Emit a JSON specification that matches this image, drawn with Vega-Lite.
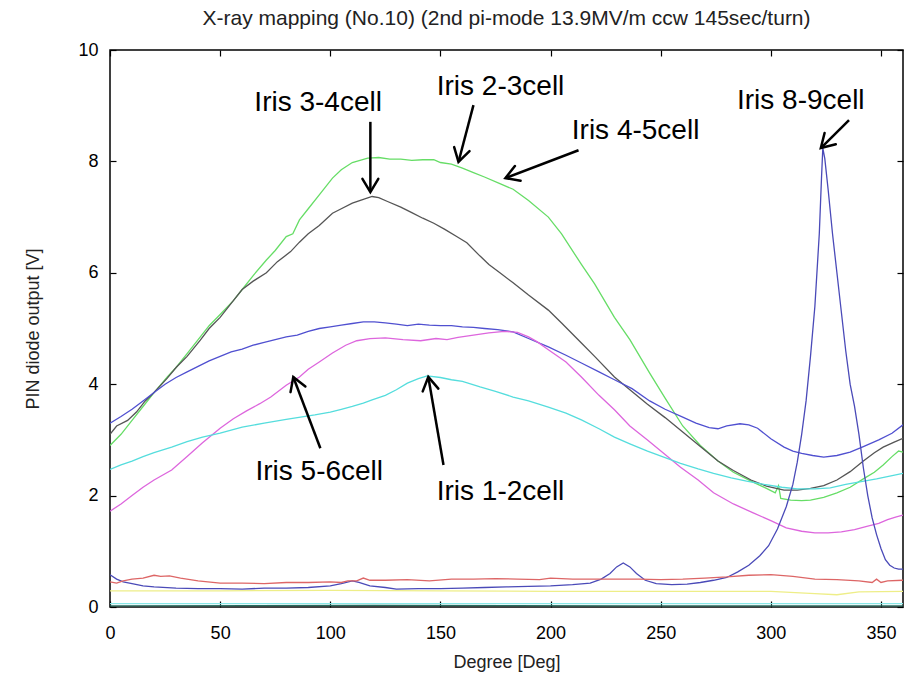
{
  "$schema": "https://vega.github.io/schema/vega-lite/v6.json",
  "width": 793,
  "height": 557,
  "autosize": "none",
  "padding": {"left": 110, "top": 50, "right": 14, "bottom": 71},
  "background": "white",
  "config": {
    "view": {"stroke": "#000000", "strokeWidth": 1.5},
    "font": "Liberation Sans"
  },
  "title": {
    "text": "X-ray mapping (No.10) (2nd pi-mode 13.9MV/m ccw 145sec/turn)",
    "fontSize": 21,
    "font": "Liberation Sans",
    "fontWeight": "normal",
    "color": "#222222",
    "anchor": "middle",
    "offset": 12
  },
  "datasets": {
    "curves": [
      {"s":"Iris 4-5cell","d":0,"v":2.9},{"s":"Iris 4-5cell","d":5,"v":3.1},{"s":"Iris 4-5cell","d":10,"v":3.35},{"s":"Iris 4-5cell","d":15,"v":3.6},{"s":"Iris 4-5cell","d":20,"v":3.85},{"s":"Iris 4-5cell","d":26,"v":4.13},{"s":"Iris 4-5cell","d":30,"v":4.3},{"s":"Iris 4-5cell","d":35,"v":4.55},{"s":"Iris 4-5cell","d":41,"v":4.85},{"s":"Iris 4-5cell","d":45,"v":5.05},{"s":"Iris 4-5cell","d":50,"v":5.25},{"s":"Iris 4-5cell","d":56,"v":5.5},{"s":"Iris 4-5cell","d":60,"v":5.7},{"s":"Iris 4-5cell","d":65,"v":5.95},{"s":"Iris 4-5cell","d":71,"v":6.23},{"s":"Iris 4-5cell","d":75,"v":6.4},{"s":"Iris 4-5cell","d":80,"v":6.65},{"s":"Iris 4-5cell","d":83,"v":6.7},{"s":"Iris 4-5cell","d":86,"v":6.95},{"s":"Iris 4-5cell","d":90,"v":7.15},{"s":"Iris 4-5cell","d":95,"v":7.4},{"s":"Iris 4-5cell","d":101,"v":7.7},{"s":"Iris 4-5cell","d":105,"v":7.85},{"s":"Iris 4-5cell","d":110,"v":7.98},{"s":"Iris 4-5cell","d":117,"v":8.06},{"s":"Iris 4-5cell","d":122,"v":8.07},{"s":"Iris 4-5cell","d":127,"v":8.04},{"s":"Iris 4-5cell","d":132,"v":8.04},{"s":"Iris 4-5cell","d":137,"v":8.02},{"s":"Iris 4-5cell","d":142,"v":8.03},{"s":"Iris 4-5cell","d":147,"v":8.03},{"s":"Iris 4-5cell","d":150,"v":7.98},{"s":"Iris 4-5cell","d":155,"v":7.95},{"s":"Iris 4-5cell","d":160,"v":7.88},{"s":"Iris 4-5cell","d":165,"v":7.8},{"s":"Iris 4-5cell","d":170,"v":7.72},{"s":"Iris 4-5cell","d":177,"v":7.6},{"s":"Iris 4-5cell","d":183,"v":7.5},{"s":"Iris 4-5cell","d":190,"v":7.3},{"s":"Iris 4-5cell","d":199,"v":7.0},{"s":"Iris 4-5cell","d":205,"v":6.7},{"s":"Iris 4-5cell","d":214,"v":6.15},{"s":"Iris 4-5cell","d":220,"v":5.8},{"s":"Iris 4-5cell","d":229,"v":5.2},{"s":"Iris 4-5cell","d":236,"v":4.8},{"s":"Iris 4-5cell","d":245,"v":4.2},{"s":"Iris 4-5cell","d":252,"v":3.75},{"s":"Iris 4-5cell","d":260,"v":3.25},{"s":"Iris 4-5cell","d":268,"v":2.9},{"s":"Iris 4-5cell","d":276,"v":2.62},{"s":"Iris 4-5cell","d":283,"v":2.42},{"s":"Iris 4-5cell","d":291,"v":2.26},{"s":"Iris 4-5cell","d":298,"v":2.13},{"s":"Iris 4-5cell","d":302,"v":2.05},{"s":"Iris 4-5cell","d":303.5,"v":2.18},{"s":"Iris 4-5cell","d":304.5,"v":1.95},{"s":"Iris 4-5cell","d":309,"v":1.92},{"s":"Iris 4-5cell","d":314,"v":1.91},{"s":"Iris 4-5cell","d":318,"v":1.92},{"s":"Iris 4-5cell","d":324,"v":1.97},{"s":"Iris 4-5cell","d":330,"v":2.05},{"s":"Iris 4-5cell","d":336,"v":2.15},{"s":"Iris 4-5cell","d":342,"v":2.3},{"s":"Iris 4-5cell","d":347,"v":2.42},{"s":"Iris 4-5cell","d":351,"v":2.55},{"s":"Iris 4-5cell","d":355,"v":2.7},{"s":"Iris 4-5cell","d":358,"v":2.8},{"s":"Iris 4-5cell","d":360,"v":2.78},

      {"s":"Iris 3-4cell","d":0,"v":3.1},{"s":"Iris 3-4cell","d":3,"v":3.25},{"s":"Iris 3-4cell","d":8,"v":3.35},{"s":"Iris 3-4cell","d":12,"v":3.5},{"s":"Iris 3-4cell","d":16,"v":3.7},{"s":"Iris 3-4cell","d":20,"v":3.85},{"s":"Iris 3-4cell","d":26,"v":4.11},{"s":"Iris 3-4cell","d":30,"v":4.3},{"s":"Iris 3-4cell","d":35,"v":4.5},{"s":"Iris 3-4cell","d":41,"v":4.79},{"s":"Iris 3-4cell","d":45,"v":5.0},{"s":"Iris 3-4cell","d":50,"v":5.2},{"s":"Iris 3-4cell","d":56,"v":5.5},{"s":"Iris 3-4cell","d":60,"v":5.7},{"s":"Iris 3-4cell","d":65,"v":5.85},{"s":"Iris 3-4cell","d":71,"v":6.0},{"s":"Iris 3-4cell","d":76,"v":6.2},{"s":"Iris 3-4cell","d":82,"v":6.38},{"s":"Iris 3-4cell","d":86,"v":6.55},{"s":"Iris 3-4cell","d":90,"v":6.7},{"s":"Iris 3-4cell","d":95,"v":6.85},{"s":"Iris 3-4cell","d":101,"v":7.07},{"s":"Iris 3-4cell","d":105,"v":7.15},{"s":"Iris 3-4cell","d":110,"v":7.25},{"s":"Iris 3-4cell","d":115,"v":7.32},{"s":"Iris 3-4cell","d":119,"v":7.37},{"s":"Iris 3-4cell","d":122,"v":7.35},{"s":"Iris 3-4cell","d":126,"v":7.28},{"s":"Iris 3-4cell","d":132,"v":7.18},{"s":"Iris 3-4cell","d":137,"v":7.08},{"s":"Iris 3-4cell","d":142,"v":6.98},{"s":"Iris 3-4cell","d":147,"v":6.89},{"s":"Iris 3-4cell","d":152,"v":6.78},{"s":"Iris 3-4cell","d":157,"v":6.66},{"s":"Iris 3-4cell","d":162,"v":6.54},{"s":"Iris 3-4cell","d":168,"v":6.3},{"s":"Iris 3-4cell","d":172,"v":6.15},{"s":"Iris 3-4cell","d":177,"v":6.0},{"s":"Iris 3-4cell","d":183,"v":5.82},{"s":"Iris 3-4cell","d":190,"v":5.6},{"s":"Iris 3-4cell","d":199,"v":5.33},{"s":"Iris 3-4cell","d":205,"v":5.1},{"s":"Iris 3-4cell","d":214,"v":4.74},{"s":"Iris 3-4cell","d":220,"v":4.5},{"s":"Iris 3-4cell","d":229,"v":4.13},{"s":"Iris 3-4cell","d":236,"v":3.9},{"s":"Iris 3-4cell","d":244,"v":3.64},{"s":"Iris 3-4cell","d":252,"v":3.4},{"s":"Iris 3-4cell","d":260,"v":3.14},{"s":"Iris 3-4cell","d":268,"v":2.88},{"s":"Iris 3-4cell","d":276,"v":2.62},{"s":"Iris 3-4cell","d":283,"v":2.45},{"s":"Iris 3-4cell","d":291,"v":2.28},{"s":"Iris 3-4cell","d":298,"v":2.17},{"s":"Iris 3-4cell","d":306,"v":2.1},{"s":"Iris 3-4cell","d":312,"v":2.1},{"s":"Iris 3-4cell","d":318,"v":2.13},{"s":"Iris 3-4cell","d":324,"v":2.18},{"s":"Iris 3-4cell","d":330,"v":2.28},{"s":"Iris 3-4cell","d":336,"v":2.43},{"s":"Iris 3-4cell","d":342,"v":2.62},{"s":"Iris 3-4cell","d":347,"v":2.77},{"s":"Iris 3-4cell","d":351,"v":2.87},{"s":"Iris 3-4cell","d":356,"v":2.96},{"s":"Iris 3-4cell","d":360,"v":3.03},

      {"s":"blue","d":0,"v":3.3},{"s":"blue","d":5,"v":3.42},{"s":"blue","d":10,"v":3.55},{"s":"blue","d":15,"v":3.7},{"s":"blue","d":20,"v":3.85},{"s":"blue","d":25,"v":4.0},{"s":"blue","d":30,"v":4.12},{"s":"blue","d":35,"v":4.22},{"s":"blue","d":40,"v":4.32},{"s":"blue","d":45,"v":4.42},{"s":"blue","d":50,"v":4.5},{"s":"blue","d":55,"v":4.58},{"s":"blue","d":60,"v":4.63},{"s":"blue","d":65,"v":4.7},{"s":"blue","d":70,"v":4.75},{"s":"blue","d":75,"v":4.8},{"s":"blue","d":80,"v":4.85},{"s":"blue","d":85,"v":4.88},{"s":"blue","d":90,"v":4.95},{"s":"blue","d":95,"v":5.0},{"s":"blue","d":100,"v":5.03},{"s":"blue","d":105,"v":5.06},{"s":"blue","d":110,"v":5.09},{"s":"blue","d":115,"v":5.12},{"s":"blue","d":120,"v":5.12},{"s":"blue","d":125,"v":5.1},{"s":"blue","d":130,"v":5.08},{"s":"blue","d":135,"v":5.05},{"s":"blue","d":140,"v":5.08},{"s":"blue","d":145,"v":5.06},{"s":"blue","d":150,"v":5.05},{"s":"blue","d":155,"v":5.05},{"s":"blue","d":160,"v":5.03},{"s":"blue","d":165,"v":5.02},{"s":"blue","d":170,"v":5.0},{"s":"blue","d":176,"v":4.98},{"s":"blue","d":183,"v":4.94},{"s":"blue","d":190,"v":4.82},{"s":"blue","d":199,"v":4.67},{"s":"blue","d":207,"v":4.52},{"s":"blue","d":214,"v":4.38},{"s":"blue","d":222,"v":4.22},{"s":"blue","d":229,"v":4.08},{"s":"blue","d":237,"v":3.92},{"s":"blue","d":245,"v":3.7},{"s":"blue","d":252,"v":3.55},{"s":"blue","d":260,"v":3.41},{"s":"blue","d":266,"v":3.3},{"s":"blue","d":272,"v":3.22},{"s":"blue","d":276,"v":3.2},{"s":"blue","d":280,"v":3.25},{"s":"blue","d":286,"v":3.29},{"s":"blue","d":290,"v":3.27},{"s":"blue","d":294,"v":3.21},{"s":"blue","d":300,"v":3.02},{"s":"blue","d":306,"v":2.87},{"s":"blue","d":310,"v":2.8},{"s":"blue","d":314,"v":2.76},{"s":"blue","d":319,"v":2.72},{"s":"blue","d":324,"v":2.69},{"s":"blue","d":330,"v":2.72},{"s":"blue","d":336,"v":2.78},{"s":"blue","d":342,"v":2.88},{"s":"blue","d":349,"v":3.0},{"s":"blue","d":355,"v":3.12},{"s":"blue","d":360,"v":3.27},

      {"s":"Iris 5-6cell","d":0,"v":1.72},{"s":"Iris 5-6cell","d":5,"v":1.85},{"s":"Iris 5-6cell","d":10,"v":2.0},{"s":"Iris 5-6cell","d":15,"v":2.15},{"s":"Iris 5-6cell","d":20,"v":2.28},{"s":"Iris 5-6cell","d":28,"v":2.46},{"s":"Iris 5-6cell","d":35,"v":2.7},{"s":"Iris 5-6cell","d":42,"v":2.95},{"s":"Iris 5-6cell","d":50,"v":3.21},{"s":"Iris 5-6cell","d":56,"v":3.38},{"s":"Iris 5-6cell","d":62,"v":3.52},{"s":"Iris 5-6cell","d":68,"v":3.65},{"s":"Iris 5-6cell","d":73,"v":3.77},{"s":"Iris 5-6cell","d":80,"v":3.98},{"s":"Iris 5-6cell","d":86,"v":4.13},{"s":"Iris 5-6cell","d":90,"v":4.27},{"s":"Iris 5-6cell","d":95,"v":4.4},{"s":"Iris 5-6cell","d":101,"v":4.56},{"s":"Iris 5-6cell","d":107,"v":4.7},{"s":"Iris 5-6cell","d":112,"v":4.78},{"s":"Iris 5-6cell","d":118,"v":4.82},{"s":"Iris 5-6cell","d":125,"v":4.83},{"s":"Iris 5-6cell","d":133,"v":4.8},{"s":"Iris 5-6cell","d":141,"v":4.78},{"s":"Iris 5-6cell","d":148,"v":4.82},{"s":"Iris 5-6cell","d":153,"v":4.8},{"s":"Iris 5-6cell","d":158,"v":4.84},{"s":"Iris 5-6cell","d":165,"v":4.88},{"s":"Iris 5-6cell","d":172,"v":4.92},{"s":"Iris 5-6cell","d":179,"v":4.95},{"s":"Iris 5-6cell","d":185,"v":4.93},{"s":"Iris 5-6cell","d":190,"v":4.85},{"s":"Iris 5-6cell","d":194,"v":4.76},{"s":"Iris 5-6cell","d":199,"v":4.62},{"s":"Iris 5-6cell","d":207,"v":4.4},{"s":"Iris 5-6cell","d":214,"v":4.13},{"s":"Iris 5-6cell","d":222,"v":3.8},{"s":"Iris 5-6cell","d":229,"v":3.54},{"s":"Iris 5-6cell","d":236,"v":3.25},{"s":"Iris 5-6cell","d":244,"v":3.0},{"s":"Iris 5-6cell","d":252,"v":2.74},{"s":"Iris 5-6cell","d":259,"v":2.51},{"s":"Iris 5-6cell","d":267,"v":2.28},{"s":"Iris 5-6cell","d":274,"v":2.05},{"s":"Iris 5-6cell","d":283,"v":1.85},{"s":"Iris 5-6cell","d":292,"v":1.69},{"s":"Iris 5-6cell","d":300,"v":1.55},{"s":"Iris 5-6cell","d":307,"v":1.42},{"s":"Iris 5-6cell","d":314,"v":1.36},{"s":"Iris 5-6cell","d":320,"v":1.33},{"s":"Iris 5-6cell","d":326,"v":1.33},{"s":"Iris 5-6cell","d":332,"v":1.35},{"s":"Iris 5-6cell","d":338,"v":1.39},{"s":"Iris 5-6cell","d":344,"v":1.45},{"s":"Iris 5-6cell","d":349,"v":1.5},{"s":"Iris 5-6cell","d":353,"v":1.57},{"s":"Iris 5-6cell","d":357,"v":1.62},{"s":"Iris 5-6cell","d":360,"v":1.65},

      {"s":"Iris 1-2cell","d":0,"v":2.47},{"s":"Iris 1-2cell","d":5,"v":2.55},{"s":"Iris 1-2cell","d":10,"v":2.62},{"s":"Iris 1-2cell","d":15,"v":2.7},{"s":"Iris 1-2cell","d":20,"v":2.77},{"s":"Iris 1-2cell","d":28,"v":2.87},{"s":"Iris 1-2cell","d":35,"v":2.97},{"s":"Iris 1-2cell","d":42,"v":3.05},{"s":"Iris 1-2cell","d":50,"v":3.12},{"s":"Iris 1-2cell","d":60,"v":3.23},{"s":"Iris 1-2cell","d":70,"v":3.3},{"s":"Iris 1-2cell","d":80,"v":3.37},{"s":"Iris 1-2cell","d":93,"v":3.45},{"s":"Iris 1-2cell","d":100,"v":3.5},{"s":"Iris 1-2cell","d":105,"v":3.55},{"s":"Iris 1-2cell","d":110,"v":3.6},{"s":"Iris 1-2cell","d":115,"v":3.66},{"s":"Iris 1-2cell","d":119,"v":3.72},{"s":"Iris 1-2cell","d":125,"v":3.8},{"s":"Iris 1-2cell","d":130,"v":3.9},{"s":"Iris 1-2cell","d":135,"v":4.02},{"s":"Iris 1-2cell","d":140,"v":4.1},{"s":"Iris 1-2cell","d":144,"v":4.15},{"s":"Iris 1-2cell","d":150,"v":4.12},{"s":"Iris 1-2cell","d":155,"v":4.08},{"s":"Iris 1-2cell","d":160,"v":4.05},{"s":"Iris 1-2cell","d":168,"v":3.95},{"s":"Iris 1-2cell","d":175,"v":3.87},{"s":"Iris 1-2cell","d":183,"v":3.77},{"s":"Iris 1-2cell","d":190,"v":3.7},{"s":"Iris 1-2cell","d":199,"v":3.59},{"s":"Iris 1-2cell","d":207,"v":3.48},{"s":"Iris 1-2cell","d":214,"v":3.36},{"s":"Iris 1-2cell","d":222,"v":3.2},{"s":"Iris 1-2cell","d":229,"v":3.05},{"s":"Iris 1-2cell","d":236,"v":2.93},{"s":"Iris 1-2cell","d":244,"v":2.8},{"s":"Iris 1-2cell","d":252,"v":2.68},{"s":"Iris 1-2cell","d":259,"v":2.58},{"s":"Iris 1-2cell","d":267,"v":2.48},{"s":"Iris 1-2cell","d":274,"v":2.4},{"s":"Iris 1-2cell","d":282,"v":2.32},{"s":"Iris 1-2cell","d":289,"v":2.26},{"s":"Iris 1-2cell","d":297,"v":2.2},{"s":"Iris 1-2cell","d":305,"v":2.15},{"s":"Iris 1-2cell","d":312,"v":2.12},{"s":"Iris 1-2cell","d":320,"v":2.12},{"s":"Iris 1-2cell","d":327,"v":2.14},{"s":"Iris 1-2cell","d":334,"v":2.2},{"s":"Iris 1-2cell","d":341,"v":2.25},{"s":"Iris 1-2cell","d":348,"v":2.3},{"s":"Iris 1-2cell","d":354,"v":2.35},{"s":"Iris 1-2cell","d":360,"v":2.4},

      {"s":"Iris 8-9cell","d":0,"v":0.58},{"s":"Iris 8-9cell","d":3,"v":0.5},{"s":"Iris 8-9cell","d":6,"v":0.45},{"s":"Iris 8-9cell","d":10,"v":0.42},{"s":"Iris 8-9cell","d":15,"v":0.38},{"s":"Iris 8-9cell","d":20,"v":0.36},{"s":"Iris 8-9cell","d":30,"v":0.34},{"s":"Iris 8-9cell","d":40,"v":0.33},{"s":"Iris 8-9cell","d":50,"v":0.33},{"s":"Iris 8-9cell","d":60,"v":0.32},{"s":"Iris 8-9cell","d":70,"v":0.34},{"s":"Iris 8-9cell","d":80,"v":0.34},{"s":"Iris 8-9cell","d":90,"v":0.35},{"s":"Iris 8-9cell","d":100,"v":0.38},{"s":"Iris 8-9cell","d":105,"v":0.42},{"s":"Iris 8-9cell","d":110,"v":0.47},{"s":"Iris 8-9cell","d":113,"v":0.44},{"s":"Iris 8-9cell","d":118,"v":0.38},{"s":"Iris 8-9cell","d":125,"v":0.35},{"s":"Iris 8-9cell","d":130,"v":0.32},{"s":"Iris 8-9cell","d":140,"v":0.33},{"s":"Iris 8-9cell","d":150,"v":0.33},{"s":"Iris 8-9cell","d":160,"v":0.34},{"s":"Iris 8-9cell","d":170,"v":0.35},{"s":"Iris 8-9cell","d":180,"v":0.36},{"s":"Iris 8-9cell","d":190,"v":0.37},{"s":"Iris 8-9cell","d":200,"v":0.38},{"s":"Iris 8-9cell","d":210,"v":0.4},{"s":"Iris 8-9cell","d":218,"v":0.43},{"s":"Iris 8-9cell","d":223,"v":0.5},{"s":"Iris 8-9cell","d":227,"v":0.6},{"s":"Iris 8-9cell","d":230,"v":0.72},{"s":"Iris 8-9cell","d":233,"v":0.79},{"s":"Iris 8-9cell","d":236,"v":0.72},{"s":"Iris 8-9cell","d":239,"v":0.6},{"s":"Iris 8-9cell","d":243,"v":0.48},{"s":"Iris 8-9cell","d":248,"v":0.42},{"s":"Iris 8-9cell","d":255,"v":0.4},{"s":"Iris 8-9cell","d":262,"v":0.41},{"s":"Iris 8-9cell","d":268,"v":0.44},{"s":"Iris 8-9cell","d":274,"v":0.48},{"s":"Iris 8-9cell","d":280,"v":0.53},{"s":"Iris 8-9cell","d":285,"v":0.63},{"s":"Iris 8-9cell","d":290,"v":0.75},{"s":"Iris 8-9cell","d":295,"v":0.92},{"s":"Iris 8-9cell","d":299,"v":1.1},{"s":"Iris 8-9cell","d":303,"v":1.4},{"s":"Iris 8-9cell","d":307,"v":1.8},{"s":"Iris 8-9cell","d":310,"v":2.2},{"s":"Iris 8-9cell","d":312,"v":2.6},{"s":"Iris 8-9cell","d":314,"v":3.1},{"s":"Iris 8-9cell","d":316,"v":3.7},{"s":"Iris 8-9cell","d":318,"v":4.5},{"s":"Iris 8-9cell","d":320,"v":5.4},{"s":"Iris 8-9cell","d":322,"v":6.7},{"s":"Iris 8-9cell","d":323,"v":7.7},{"s":"Iris 8-9cell","d":323.6,"v":8.24},{"s":"Iris 8-9cell","d":324.5,"v":8.05},{"s":"Iris 8-9cell","d":326,"v":7.5},{"s":"Iris 8-9cell","d":328,"v":6.7},{"s":"Iris 8-9cell","d":330,"v":6.0},{"s":"Iris 8-9cell","d":332,"v":5.3},{"s":"Iris 8-9cell","d":334,"v":4.6},{"s":"Iris 8-9cell","d":336,"v":4.0},{"s":"Iris 8-9cell","d":338,"v":3.6},{"s":"Iris 8-9cell","d":340,"v":3.1},{"s":"Iris 8-9cell","d":342,"v":2.5},{"s":"Iris 8-9cell","d":344,"v":2.0},{"s":"Iris 8-9cell","d":346,"v":1.6},{"s":"Iris 8-9cell","d":348,"v":1.3},{"s":"Iris 8-9cell","d":350,"v":1.05},{"s":"Iris 8-9cell","d":352,"v":0.85},{"s":"Iris 8-9cell","d":354,"v":0.75},{"s":"Iris 8-9cell","d":356,"v":0.7},{"s":"Iris 8-9cell","d":358,"v":0.68},{"s":"Iris 8-9cell","d":360,"v":0.68},

      {"s":"red","d":0,"v":0.45},{"s":"red","d":3,"v":0.43},{"s":"red","d":6,"v":0.47},{"s":"red","d":10,"v":0.5},{"s":"red","d":15,"v":0.52},{"s":"red","d":20,"v":0.57},{"s":"red","d":23,"v":0.55},{"s":"red","d":27,"v":0.56},{"s":"red","d":32,"v":0.52},{"s":"red","d":40,"v":0.47},{"s":"red","d":50,"v":0.43},{"s":"red","d":60,"v":0.43},{"s":"red","d":70,"v":0.42},{"s":"red","d":80,"v":0.44},{"s":"red","d":90,"v":0.44},{"s":"red","d":100,"v":0.45},{"s":"red","d":105,"v":0.44},{"s":"red","d":108,"v":0.47},{"s":"red","d":112,"v":0.47},{"s":"red","d":115,"v":0.52},{"s":"red","d":118,"v":0.48},{"s":"red","d":125,"v":0.48},{"s":"red","d":135,"v":0.49},{"s":"red","d":145,"v":0.47},{"s":"red","d":155,"v":0.5},{"s":"red","d":165,"v":0.5},{"s":"red","d":175,"v":0.51},{"s":"red","d":185,"v":0.5},{"s":"red","d":195,"v":0.49},{"s":"red","d":200,"v":0.52},{"s":"red","d":210,"v":0.5},{"s":"red","d":220,"v":0.5},{"s":"red","d":230,"v":0.5},{"s":"red","d":240,"v":0.5},{"s":"red","d":250,"v":0.49},{"s":"red","d":260,"v":0.5},{"s":"red","d":270,"v":0.52},{"s":"red","d":280,"v":0.54},{"s":"red","d":290,"v":0.57},{"s":"red","d":300,"v":0.58},{"s":"red","d":310,"v":0.55},{"s":"red","d":320,"v":0.5},{"s":"red","d":330,"v":0.49},{"s":"red","d":340,"v":0.47},{"s":"red","d":346,"v":0.44},{"s":"red","d":348,"v":0.5},{"s":"red","d":350,"v":0.44},{"s":"red","d":353,"v":0.47},{"s":"red","d":360,"v":0.48},

      {"s":"yellow","d":0,"v":0.29},{"s":"yellow","d":50,"v":0.29},{"s":"yellow","d":100,"v":0.3},{"s":"yellow","d":150,"v":0.29},{"s":"yellow","d":200,"v":0.28},{"s":"yellow","d":250,"v":0.28},{"s":"yellow","d":300,"v":0.28},{"s":"yellow","d":320,"v":0.24},{"s":"yellow","d":330,"v":0.22},{"s":"yellow","d":340,"v":0.27},{"s":"yellow","d":360,"v":0.28},

      {"s":"cyan base","d":0,"v":0.06},{"s":"cyan base","d":120,"v":0.06},{"s":"cyan base","d":240,"v":0.06},{"s":"cyan base","d":360,"v":0.06},

      {"s":"teal","d":0,"v":0.02},{"s":"teal","d":120,"v":0.03},{"s":"teal","d":240,"v":0.02},{"s":"teal","d":360,"v":0.02}
    ],
    "labels": [
      {"text":"Iris 3-4cell","d":94.5,"v":9.05},
      {"text":"Iris 2-3cell","d":177.3,"v":9.34},
      {"text":"Iris 4-5cell","d":238.6,"v":8.55},
      {"text":"Iris 8-9cell","d":313.6,"v":9.08},
      {"text":"Iris 5-6cell","d":95,"v":2.42},
      {"text":"Iris 1-2cell","d":177.3,"v":2.06}
    ],
    "arrows": [
      {"name":"Iris 3-4cell","d":118.2,"v":8.71,"d2":118.2,"v2":7.45,"dir":90},
      {"name":"Iris 2-3cell","d":165.0,"v":9.01,"d2":158.2,"v2":7.99,"dir":104.7},
      {"name":"Iris 4-5cell","d":212.7,"v":8.2,"d2":179.5,"v2":7.7,"dir":159},
      {"name":"Iris 8-9cell","d":335.5,"v":8.74,"d2":322.7,"v2":8.24,"dir":135},
      {"name":"Iris 5-6cell","d":95.5,"v":2.85,"d2":83.2,"v2":4.13,"dir":249.2},
      {"name":"Iris 1-2cell","d":151.4,"v":2.55,"d2":144.5,"v2":4.13,"dir":260.3}
    ]
  },
  "resolve": {"axis": {"x": "independent", "y": "independent"}},
  "layer": [
    {
      "data": {"name": "curves"},
      "mark": {"type": "line", "strokeWidth": 1.3, "clip": true},
      "encoding": {
        "x": {
          "field": "d", "type": "quantitative",
          "scale": {"domain": [0, 360], "nice": false, "zero": false},
          "axis": {
            "orient": "bottom", "title": "Degree [Deg]",
            "values": [0, 50, 100, 150, 200, 250, 300, 350],
            "domain": false, "grid": false,
            "tickSize": -6, "tickColor": "#000000", "tickWidth": 1.2,
            "labelPadding": 23, "labelFontSize": 18, "labelFont": "Liberation Sans", "labelColor": "#000000",
            "labelFlush": false,
            "titleFontSize": 18, "titleFont": "Liberation Sans", "titleFontWeight": "normal", "titleColor": "#222222",
            "titlePadding": 11
          }
        },
        "y": {
          "field": "v", "type": "quantitative",
          "scale": {"domain": [0, 10], "nice": false},
          "axis": {
            "orient": "left", "title": "PIN diode output  [V]",
            "values": [0, 2, 4, 6, 8, 10],
            "domain": false, "grid": false,
            "tickSize": -6, "tickColor": "#000000", "tickWidth": 1.2,
            "labelPadding": 18, "labelFontSize": 18, "labelFont": "Liberation Sans", "labelColor": "#000000",
            "labelFlush": false,
            "titleFontSize": 18, "titleFont": "Liberation Sans", "titleFontWeight": "normal", "titleColor": "#222222",
            "titlePadding": 35
          }
        },
        "color": {
          "field": "s", "type": "nominal", "legend": null,
          "scale": {
            "domain": ["teal", "cyan base", "yellow", "red", "Iris 8-9cell", "Iris 1-2cell", "Iris 5-6cell", "blue", "Iris 3-4cell", "Iris 4-5cell"],
            "range": ["#2a6e60", "#88e8e8", "#eeee88", "#dd6666", "#4a4ab8", "#55dddd", "#dd66dd", "#5050d0", "#555555", "#66dd66"]
          }
        },
        "order": {"field": "d", "type": "quantitative"}
      }
    },
    {
      "data": {"name": "arrows"},
      "mark": {"type": "rule", "color": "#000000", "strokeWidth": 2.5},
      "encoding": {
        "x": {"field": "d", "type": "quantitative", "axis": {"orient": "top", "title": null, "labels": false, "domain": false, "grid": false, "values": [0, 50, 100, 150, 200, 250, 300, 350], "tickSize": -6, "tickColor": "#000000", "tickWidth": 1.2}},
        "y": {"field": "v", "type": "quantitative", "axis": {"orient": "right", "title": null, "labels": false, "domain": false, "grid": false, "values": [0, 2, 4, 6, 8, 10], "tickSize": -6, "tickColor": "#000000", "tickWidth": 1.2}},
        "x2": {"field": "d2"},
        "y2": {"field": "v2"}
      }
    },
    {
      "data": {"name": "arrows"},
      "mark": {"type": "point", "shape": "M -1 -0.6 L 0 0 L -1 0.6", "filled": false, "stroke": "#000000", "strokeWidth": 2.5, "size": 700, "opacity": 1, "strokeCap": "round", "strokeJoin": "miter"},
      "encoding": {
        "x": {"field": "d2", "type": "quantitative", "axis": null},
        "y": {"field": "v2", "type": "quantitative", "axis": null},
        "angle": {"field": "dir", "type": "quantitative", "scale": null}
      }
    },
    {
      "data": {"name": "labels"},
      "mark": {"type": "text", "font": "Liberation Sans", "fontSize": 28, "color": "#000000", "align": "center", "baseline": "middle"},
      "encoding": {
        "x": {"field": "d", "type": "quantitative", "axis": null},
        "y": {"field": "v", "type": "quantitative", "axis": null},
        "text": {"field": "text"}
      }
    }
  ]
}
